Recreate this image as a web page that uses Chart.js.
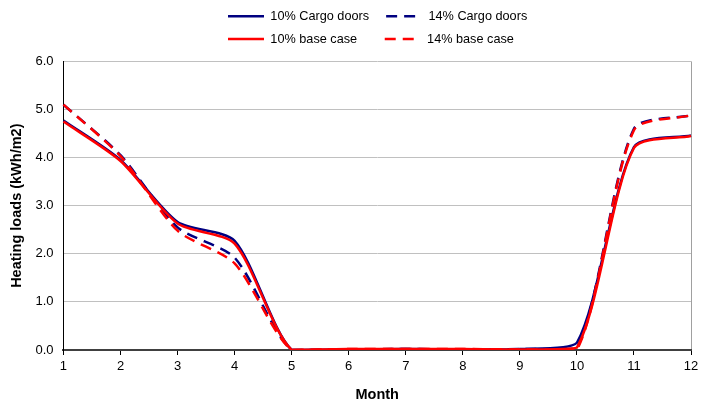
<!DOCTYPE html>
<html>
<head>
<meta charset="utf-8">
<script src="https://cdn.jsdelivr.net/npm/chart.js@4/dist/chart.umd.min.js"></script>
<style>
  html, body { margin: 0; padding: 0; background: #fff; }
  #wrap { width: 705px; height: 405px; }
</style>
</head>
<body>
<div id="wrap"><canvas id="grafico" width="705" height="405"></canvas></div>
<script>
// datos (kWh/m2 por mes)
const meses = ['1', '2', '3', '4', '5', '6', '7', '8', '9', '10', '11', '12'];
const cargo10 = [4.77, 3.95, 2.66, 2.27, 0.0, 0.01, 0.02, 0.01, 0.02, 0.15, 4.22, 4.46];
const cargo14 = [5.10, 4.05, 2.55, 1.92, 0.0, 0.01, 0.02, 0.01, 0.02, 0.04, 4.60, 4.88];
const base10 = [4.75, 3.93, 2.63, 2.21, 0.0, 0.02, 0.02, 0.02, 0.01, 0.05, 4.20, 4.45];
const base14 = [5.10, 4.03, 2.48, 1.80, 0.0, 0.02, 0.02, 0.02, 0.01, 0.00, 4.57, 4.88];
const yTicks = [0, 1, 2, 3, 4, 5, 6];

const fuente = 'Arial, "Liberation Sans", sans-serif';
const azul = '#000080';
const rojo = '#FF0000';

// la leyenda va en dos filas de dos elementos, empezando en x = 228
const LEY_IZQ = 218, LEY_ANCHO = 340;
const leyendaDosFilas = {
  id: 'leyendaDosFilas',
  afterInit(chart) {
    const lg = chart.legend;
    const orig = lg.update.bind(lg);
    lg.update = (w, h, m) => {
      orig(Math.min(w, LEY_ANCHO), h, m);
      lg.height += 6; // espacio extra hasta el area del grafico
    };
  },
  afterLayout(chart) {
    const lg = chart.legend;
    lg.left = LEY_IZQ;
    lg.right = LEY_IZQ + LEY_ANCHO;
    lg.width = LEY_ANCHO;
  }
};

function serie(label, data, color, dashed, order) {
  return {
    label: label,
    data: data,
    borderColor: color,
    backgroundColor: color,
    borderWidth: 2.5,
    borderDash: dashed ? [11, 7] : [],
    pointRadius: 0,
    pointStyle: 'line',
    tension: 0.25,
    fill: false,
    order: order
  };
}

new Chart(document.getElementById('grafico').getContext('2d'), {
  type: 'line',
  data: {
    labels: meses,
    datasets: [
      serie('10% Cargo doors', cargo10, azul, false, 4),
      serie('14% Cargo doors', cargo14, azul, true, 3),
      serie('10% base case', base10, rojo, false, 2),
      serie('14% base case', base14, rojo, true, 1)
    ]
  },
  options: {
    responsive: false,
    animation: false,
    layout: { padding: { left: 4, right: 14, top: 0, bottom: 1 } },
    plugins: {
      legend: {
        position: 'top',
        align: 'start',
        labels: {
          sort: (a, b) => a.datasetIndex - b.datasetIndex,
          generateLabels: (chart) => {
            const items = Chart.defaults.plugins.legend.labels.generateLabels(chart);
            items.forEach(it => {
              const ds = chart.data.datasets[it.datasetIndex];
              it.lineDash = ds.borderDash;
              it.lineWidth = ds.borderWidth;
              it.strokeStyle = ds.borderColor;
              // columnas alineadas como en el original
              if (it.datasetIndex === 0) it.text += '\u00a0\u00a0';
              if (it.datasetIndex === 2) it.text += '\u00a0\u00a0\u00a0\u00a0\u00a0';
            });
            return items;
          },
          usePointStyle: true,
          pointStyle: 'line',
          pointStyleWidth: 36,
          boxHeight: 12,
          padding: 10,
          color: '#000',
          font: { family: fuente, size: 12.7 }
        }
      },
      tooltip: { enabled: false }
    },
    scales: {
      x: {
        offset: false,
        grid: {
          color: (c) => c.index === meses.length - 1 ? '#a0a0a0' : 'rgba(0,0,0,0)',
          tickColor: '#000',
          tickLength: 5,
          drawOnChartArea: true
        },
        border: { display: true, color: '#404040', width: 2 },
        ticks: { color: '#000', font: { family: fuente, size: 13 }, maxRotation: 0, padding: 4 },
        title: { display: true, text: 'Month', color: '#000', font: { family: fuente, size: 14.5, weight: 'bold' }, padding: { top: 8, bottom: 0 } }
      },
      y: {
        min: 0,
        max: 6,
        afterBuildTicks: (axis) => { axis.ticks = yTicks.map(v => ({ value: v })); },
        grid: { color: '#c0c0c0', drawTicks: false },
        border: { display: true, color: '#000', width: 1 },
        ticks: { color: '#000', font: { family: fuente, size: 13 }, padding: 10, callback: (v) => v.toFixed(1) },
        title: { display: true, text: 'Heating loads (kWh/m2)', color: '#000', font: { family: fuente, size: 14.5, weight: 'bold' }, padding: { top: 4, bottom: 0 } }
      }
    }
  },
  plugins: [leyendaDosFilas]
});
</script>
</body>
</html>
